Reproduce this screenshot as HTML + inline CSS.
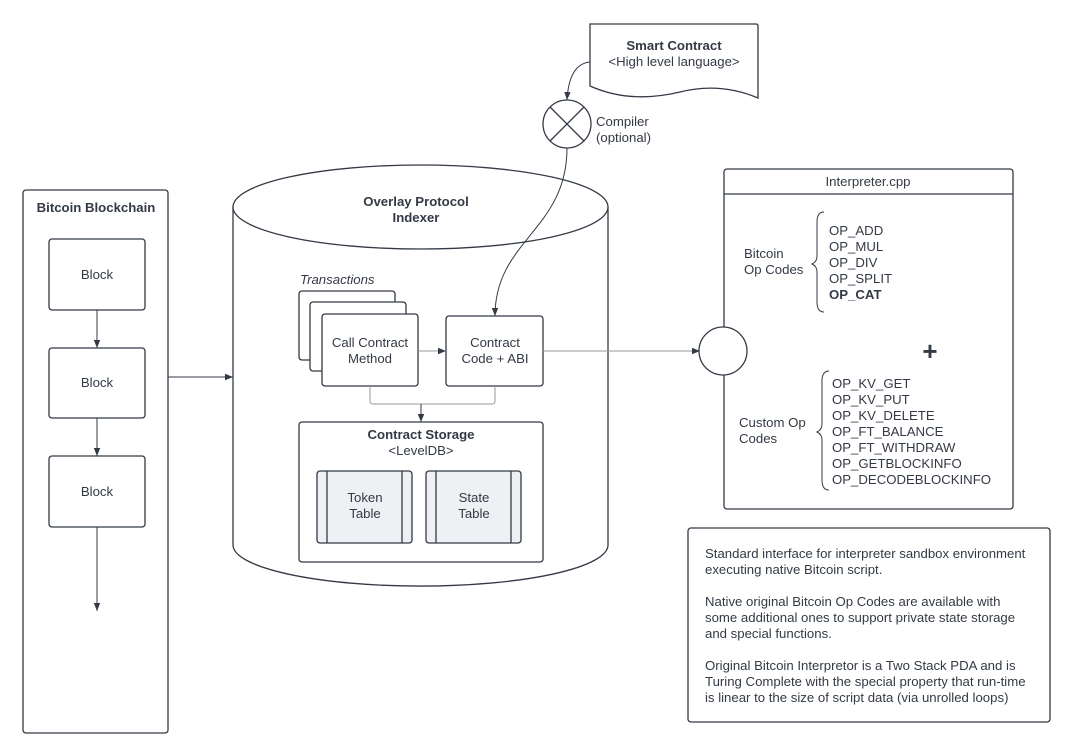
<!DOCTYPE html>
<html><head><meta charset="utf-8"><style>
html,body{margin:0;padding:0;background:#fff;}
svg{display:block;font-family:"Liberation Sans",Arial,sans-serif;}
text{fill:#333a45;font-size:13.2px;}
.b{font-weight:bold;}
</style></head><body>
<svg width="1074" height="748" viewBox="0 0 1074 748" xmlns="http://www.w3.org/2000/svg">
<defs>
<marker id="ar" viewBox="0 0 10 10" refX="10" refY="5" markerWidth="8" markerHeight="8" orient="auto-start-reverse" markerUnits="userSpaceOnUse"><path d="M0,1 L10,5 L0,9 z" fill="#333a45"/></marker>
</defs>
<g fill="none" stroke="#333a45" stroke-width="1.3">
<rect x="23" y="190" width="145" height="543" rx="3" fill="#fff"/>
<rect x="49" y="239" width="96" height="71" rx="3" fill="#fff"/>
<rect x="49" y="348" width="96" height="70" rx="3" fill="#fff"/>
<rect x="49" y="456" width="96" height="71" rx="3" fill="#fff"/>
<line x1="97" y1="310" x2="97" y2="348" stroke-width="1" marker-end="url(#ar)"/>
<line x1="97" y1="418" x2="97" y2="456" stroke-width="1" marker-end="url(#ar)"/>
<line x1="97" y1="527" x2="97" y2="611" stroke-width="1" marker-end="url(#ar)"/>
<line x1="168" y1="377" x2="233" y2="377" stroke-width="1" marker-end="url(#ar)"/>
<path d="M233,207 L233,545 A187,41 0 0 0 608,545 L608,207" fill="#fff"/>
<ellipse cx="420.5" cy="207" rx="187.5" ry="42" fill="#fff"/>
<rect x="299" y="291" width="96" height="69" rx="3" fill="#fff"/>
<rect x="310" y="302" width="96" height="69" rx="3" fill="#fff"/>
<rect x="322" y="314" width="96" height="72" rx="3" fill="#fff"/>
<rect x="446" y="316" width="97" height="70" rx="3" fill="#fff"/>
<line x1="418" y1="351" x2="446" y2="351" stroke-width="1" stroke="#999" marker-end="url(#ar)"/>
<path d="M370,386 L370,401 Q370,404 373,404 L492,404 Q495,404 495,401 L495,386" stroke-width="1" stroke="#999"/>
<line x1="421" y1="404" x2="421" y2="422" stroke-width="1" marker-end="url(#ar)"/>
<rect x="299" y="422" width="244" height="140" rx="3" fill="#fff"/>
<rect x="317" y="471" width="95" height="72" rx="3" fill="#eef0f3"/>
<line x1="327" y1="471" x2="327" y2="543"/><line x1="402" y1="471" x2="402" y2="543"/>
<rect x="426" y="471" width="95" height="72" rx="3" fill="#eef0f3"/>
<line x1="436" y1="471" x2="436" y2="543"/><line x1="511" y1="471" x2="511" y2="543"/>
<line x1="543" y1="351" x2="700" y2="351" stroke-width="1" stroke="#999" marker-end="url(#ar)"/>
<rect x="724" y="169" width="289" height="340" rx="3" fill="#fff"/>
<line x1="724" y1="194" x2="1013" y2="194"/>
<circle cx="723" cy="351" r="24" fill="#fff"/>
<path d="M824,212 Q817,212 817,222 L817,256 Q817,262 812,264 Q817,266 817,272 L817,302 Q817,312 824,312" stroke-width="1"/>
<path d="M829,371 Q822,371 822,381 L822,424 Q822,430 817,432 Q822,434 822,440 L822,480 Q822,490 829,490" stroke-width="1"/>
<path d="M590,24 L756,24 Q758,24 758,26 L758,98 Q720,82 680,92 Q630,104 590,86 Z" fill="#fff"/>
<circle cx="567" cy="124" r="24" fill="#fff"/>
<line x1="550" y1="107" x2="584" y2="141"/><line x1="584" y1="107" x2="550" y2="141"/>
<path d="M590,62 Q569,64 567,100" stroke-width="1" marker-end="url(#ar)"/>
<path d="M567,148 C567,230 495,240 495,316" stroke-width="1" marker-end="url(#ar)"/>
<rect x="688" y="528" width="362" height="194" rx="3" fill="#fff"/>
</g>
<g text-anchor="middle">
<text x="96" y="212" class="b">Bitcoin Blockchain</text>
<text x="97" y="279">Block</text>
<text x="97" y="387">Block</text>
<text x="97" y="496">Block</text>
<text x="416" y="206" class="b">Overlay Protocol</text>
<text x="416" y="222" class="b">Indexer</text>
<text x="370" y="347">Call Contract</text>
<text x="370" y="363">Method</text>
<text x="495" y="347">Contract</text>
<text x="495" y="363">Code + ABI</text>
<text x="421" y="439" class="b">Contract Storage</text>
<text x="421" y="455">&lt;LevelDB&gt;</text>
<text x="365" y="502">Token</text>
<text x="365" y="518">Table</text>
<text x="474" y="502">State</text>
<text x="474" y="518">Table</text>
<text x="674" y="50" class="b">Smart Contract</text>
<text x="674" y="66">&lt;High level language&gt;</text>
<text x="868" y="186">Interpreter.cpp</text>
</g>
<text x="300" y="284" font-style="italic">Transactions</text>
<text x="596" y="126">Compiler</text>
<text x="596" y="142">(optional)</text>
<text x="744" y="258">Bitcoin</text>
<text x="744" y="274">Op Codes</text>
<text x="829" y="235">OP_ADD</text>
<text x="829" y="251">OP_MUL</text>
<text x="829" y="267">OP_DIV</text>
<text x="829" y="283">OP_SPLIT</text>
<text x="829" y="299" class="b">OP_CAT</text>
<text x="930" y="360" text-anchor="middle" style="font-size:26px;font-weight:bold">+</text>
<text x="739" y="427">Custom Op</text>
<text x="739" y="443">Codes</text>
<text x="832" y="388">OP_KV_GET</text>
<text x="832" y="404">OP_KV_PUT</text>
<text x="832" y="420">OP_KV_DELETE</text>
<text x="832" y="436">OP_FT_BALANCE</text>
<text x="832" y="452">OP_FT_WITHDRAW</text>
<text x="832" y="468">OP_GETBLOCKINFO</text>
<text x="832" y="484">OP_DECODEBLOCKINFO</text>
<g>
<text x="705" y="558">Standard interface for interpreter sandbox environment</text>
<text x="705" y="574">executing native Bitcoin script.</text>
<text x="705" y="606">Native original Bitcoin Op Codes are available with</text>
<text x="705" y="622">some additional ones to support private state storage</text>
<text x="705" y="638">and special functions.</text>
<text x="705" y="670">Original Bitcoin Interpretor is a Two Stack PDA and is</text>
<text x="705" y="686">Turing Complete with the special property that run-time</text>
<text x="705" y="702">is linear to the size of script data (via unrolled loops)</text>
</g>
</svg>
</body></html>
